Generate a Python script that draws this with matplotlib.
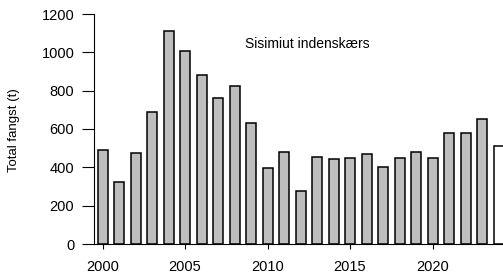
import matplotlib
matplotlib.use("Agg")
import matplotlib.pyplot as plt

years = list(range(2000, 2025))
catch = [490, 325, 473, 690, 1113, 1007, 883, 762, 824, 630,
         395, 478, 278, 456, 443, 450, 470, 403, 449, 482,
         450, 579, 577, 654, 510]
colors = ["#bebebe"] * (len(years) - 1) + ["white"]
yticks = [0, 200, 400, 600, 800, 1000, 1200]
xticks = [2000, 2005, 2010, 2015, 2020]

plt.rcParams['font.family'] = ['Liberation Sans', 'DejaVu Sans']

fig = plt.figure(figsize=(5.03, 2.78), dpi=100)
ax = fig.add_axes([94.3 / 503, 34 / 278, 1 - 94.3 / 503, 230 / 278])
ax.bar(years, catch, width=0.61, color=colors, edgecolor="black", linewidth=1.1)
ax.set_xlim(1999.5, 2024.27)
ax.set_ylim(0, 1200)
ax.set_yticks(yticks)
ax.set_xticks(xticks)
ax.tick_params(axis="y", length=8.4, width=0.8, pad=6, labelsize=10.5)
ax.tick_params(axis="x", length=3.6, width=0.8, pad=8, labelsize=10.5)
for s in ["top", "right"]:
    ax.spines[s].set_visible(False)
for s in ["left", "bottom"]:
    ax.spines[s].set_linewidth(0.8)

fig.text(14 / 503, 1 - 130 / 278, "Total fangst (t)", rotation=90,
         ha="center", va="center", fontsize=9.5)
fig.text(245 / 503, 1 - 44 / 278, "Sisimiut indenskærs", ha="left",
         va="center", fontsize=10)

fig.savefig("out.png", dpi=100)
